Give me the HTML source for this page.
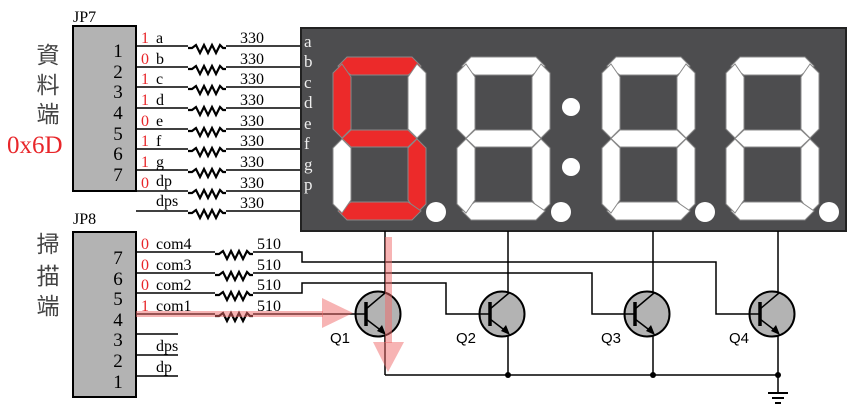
<!DOCTYPE html>
<html><head><meta charset="utf-8"><style>
html,body{margin:0;padding:0;background:#fff;}
svg{display:block;}
.s{font-family:"Liberation Serif",serif;}
.a{font-family:"Liberation Sans",sans-serif;}
.cj{font-family:"Liberation Sans","Noto Sans CJK TC",sans-serif;}
</style></head><body>
<svg width="861" height="414" viewBox="0 0 861 414" xmlns="http://www.w3.org/2000/svg">
<defs>
<polyline id="res" points="0,0 4,0 8,-3 12,5 16,-3 20,5 24,-3 28,5 32,-3 35,0 38,0" fill="none" stroke="#000" stroke-width="2.2" stroke-linejoin="miter"/>
<g id="tr">
  <circle cx="0" cy="0" r="22.5" fill="#b3b3b3" stroke="#000" stroke-width="2"/>
  <line x1="-22" y1="0" x2="-12" y2="0" stroke="#000" stroke-width="1.5"/>
  <line x1="-12" y1="-12" x2="-12" y2="12" stroke="#000" stroke-width="3.5"/>
  <line x1="-12" y1="-5" x2="7" y2="-21" stroke="#000" stroke-width="1.5"/>
  <line x1="-12" y1="5" x2="5" y2="18" stroke="#000" stroke-width="1.5"/>
  <polygon points="8,21 -1,17 4,11" fill="#000"/>
</g>
</defs>

<text x="73" y="22" class="s" font-size="16">JP7</text>
<rect x="73" y="26" width="63" height="165" fill="#b3b3b3" stroke="#000" stroke-width="2"/>
<g class="s" font-size="19" text-anchor="middle">
<text x="118" y="57">1</text><text x="118" y="78">2</text><text x="118" y="98">3</text><text x="118" y="119">4</text><text x="118" y="140">5</text><text x="118" y="160">6</text><text x="118" y="181">7</text>
</g>
<g class="cj" font-size="23" fill="#444" text-anchor="middle">
<text x="48" y="63">資</text><text x="48" y="93">料</text><text x="48" y="122">端</text>
</g>
<text x="7" y="153" class="s" font-size="25" fill="#e8262a">0x6D</text>

<g stroke="#000" stroke-width="1.5">
<line x1="136" y1="46" x2="301" y2="46"/><line x1="136" y1="67" x2="301" y2="67"/><line x1="136" y1="87" x2="301" y2="87"/><line x1="136" y1="108" x2="301" y2="108"/><line x1="136" y1="129" x2="301" y2="129"/><line x1="136" y1="149" x2="301" y2="149"/><line x1="136" y1="170" x2="301" y2="170"/><line x1="136" y1="191" x2="301" y2="191"/><line x1="136" y1="211" x2="301" y2="211"/>
</g>
<g fill="#fff">
<rect x="188" y="40" width="38" height="14"/><rect x="188" y="61" width="38" height="14"/><rect x="188" y="81" width="38" height="14"/><rect x="188" y="102" width="38" height="14"/><rect x="188" y="123" width="38" height="14"/><rect x="188" y="143" width="38" height="14"/><rect x="188" y="164" width="38" height="14"/><rect x="188" y="185" width="38" height="14"/><rect x="188" y="205" width="38" height="14"/>
</g>
<use href="#res" x="188" y="48"/><use href="#res" x="188" y="69"/><use href="#res" x="188" y="89"/><use href="#res" x="188" y="110"/><use href="#res" x="188" y="131"/><use href="#res" x="188" y="151"/><use href="#res" x="188" y="172"/><use href="#res" x="188" y="193"/><use href="#res" x="188" y="213"/>
<g class="s" font-size="16">
<text x="240" y="43">330</text><text x="240" y="64">330</text><text x="240" y="84">330</text><text x="240" y="105">330</text><text x="240" y="126">330</text><text x="240" y="146">330</text><text x="240" y="167">330</text><text x="240" y="188">330</text><text x="240" y="208">330</text>
</g>
<g class="s" font-size="16" fill="#e8262a">
<text x="141" y="43">1</text><text x="141" y="64">0</text><text x="141" y="84">1</text><text x="141" y="105">1</text><text x="141" y="126">0</text><text x="141" y="146">1</text><text x="141" y="167">1</text><text x="141" y="188">0</text>
</g>
<g class="s" font-size="16">
<text x="156" y="43">a</text><text x="156" y="64">b</text><text x="156" y="84">c</text><text x="156" y="105">d</text><text x="156" y="126">e</text><text x="156" y="146">f</text><text x="156" y="167">g</text><text x="156" y="186">dp</text><text x="156" y="206">dps</text>
</g>

<rect x="301" y="28" width="545" height="203" fill="#4d4d4f" stroke="#222" stroke-width="2"/>
<g class="s" font-size="17" fill="#eee">
<text x="304" y="47">a</text><text x="304" y="67">b</text><text x="304" y="88">c</text><text x="304" y="108">d</text><text x="304" y="129">e</text><text x="304" y="149">f</text><text x="304" y="170">g</text><text x="304" y="190">p</text>
</g>
<g stroke="#888" stroke-width="1">
<g transform="translate(333,57)">
 <polygon fill="#ec2a2a" points="14,0 79,0 88,9 75,18 18,18 5,9"/>
 <polygon fill="#fff" points="93,16 84,7 75,20 75,72 84,81 93,72"/>
 <polygon fill="#ec2a2a" points="93,91 84,82 75,91 75,143 84,156 93,147"/>
 <polygon fill="#ec2a2a" points="5,154 18,145 75,145 88,154 79,163 14,163"/>
 <polygon fill="#fff" points="0,91 9,82 18,91 18,143 9,156 0,147"/>
 <polygon fill="#ec2a2a" points="0,16 9,7 18,20 18,72 9,81 0,72"/>
 <polygon fill="#ec2a2a" points="9,81.5 18,73 75,73 84,81.5 75,90 18,90"/>
</g>
<g fill="#fff">
<g transform="translate(457,57)">
 <polygon points="14,0 79,0 88,9 75,18 18,18 5,9"/><polygon points="93,16 84,7 75,20 75,72 84,81 93,72"/><polygon points="93,91 84,82 75,91 75,143 84,156 93,147"/><polygon points="5,154 18,145 75,145 88,154 79,163 14,163"/><polygon points="0,91 9,82 18,91 18,143 9,156 0,147"/><polygon points="0,16 9,7 18,20 18,72 9,81 0,72"/><polygon points="9,81.5 18,73 75,73 84,81.5 75,90 18,90"/>
</g>
<g transform="translate(602,57)">
 <polygon points="14,0 79,0 88,9 75,18 18,18 5,9"/><polygon points="93,16 84,7 75,20 75,72 84,81 93,72"/><polygon points="93,91 84,82 75,91 75,143 84,156 93,147"/><polygon points="5,154 18,145 75,145 88,154 79,163 14,163"/><polygon points="0,91 9,82 18,91 18,143 9,156 0,147"/><polygon points="0,16 9,7 18,20 18,72 9,81 0,72"/><polygon points="9,81.5 18,73 75,73 84,81.5 75,90 18,90"/>
</g>
<g transform="translate(726,57)">
 <polygon points="14,0 79,0 88,9 75,18 18,18 5,9"/><polygon points="93,16 84,7 75,20 75,72 84,81 93,72"/><polygon points="93,91 84,82 75,91 75,143 84,156 93,147"/><polygon points="5,154 18,145 75,145 88,154 79,163 14,163"/><polygon points="0,91 9,82 18,91 18,143 9,156 0,147"/><polygon points="0,16 9,7 18,20 18,72 9,81 0,72"/><polygon points="9,81.5 18,73 75,73 84,81.5 75,90 18,90"/>
</g>
</g>
</g>
<g fill="#fff">
<circle cx="436" cy="212" r="10"/><circle cx="561" cy="212" r="10"/><circle cx="705" cy="212" r="10"/><circle cx="829" cy="212" r="10"/>
<circle cx="571" cy="107" r="9"/><circle cx="571" cy="167" r="9"/>
</g>

<text x="73" y="224" class="s" font-size="16">JP8</text>
<rect x="73" y="232" width="63" height="165" fill="#b3b3b3" stroke="#000" stroke-width="2"/>
<g class="s" font-size="19" text-anchor="middle">
<text x="118" y="264">7</text><text x="118" y="285">6</text><text x="118" y="305">5</text><text x="118" y="326">4</text><text x="118" y="346">3</text><text x="118" y="367">2</text><text x="118" y="388">1</text>
</g>
<g class="cj" font-size="23" fill="#444" text-anchor="middle">
<text x="48" y="252">掃</text><text x="48" y="284">描</text><text x="48" y="314">端</text>
</g>

<g stroke="#000" stroke-width="1.5" fill="none">
<polyline points="136,252 302,252 302,262 716,262 716,314 750,314"/>
<polyline points="136,273 592,273 592,314 626,314"/>
<polyline points="136,293 302,293 302,283 446,283 446,314 481,314"/>
<line x1="136" y1="314" x2="356" y2="314"/>
<line x1="136" y1="334" x2="178" y2="334"/><line x1="136" y1="355" x2="178" y2="355"/><line x1="136" y1="376" x2="178" y2="376"/>
<line x1="385" y1="231" x2="385" y2="375"/>
<line x1="508" y1="231" x2="508" y2="375"/>
<line x1="653" y1="231" x2="653" y2="375"/>
<line x1="778" y1="231" x2="778" y2="393"/>
<line x1="385" y1="375" x2="778" y2="375"/>
</g>
<g fill="#fff">
<rect x="215" y="246" width="38" height="14"/><rect x="215" y="267" width="38" height="14"/><rect x="215" y="287" width="38" height="14"/><rect x="215" y="308" width="38" height="14"/>
</g>
<use href="#res" x="215" y="254"/><use href="#res" x="215" y="275"/><use href="#res" x="215" y="295"/><use href="#res" x="215" y="316"/>
<g class="s" font-size="16">
<text x="257" y="249">510</text><text x="257" y="270">510</text><text x="257" y="290">510</text><text x="257" y="311">510</text>
<text x="156" y="249">com4</text><text x="156" y="270">com3</text><text x="156" y="290">com2</text><text x="156" y="311">com1</text>
<text x="156" y="351">dps</text><text x="156" y="372">dp</text>
</g>
<g class="s" font-size="16" fill="#e8262a">
<text x="141" y="249">0</text><text x="141" y="270">0</text><text x="141" y="290">0</text><text x="141" y="311">1</text>
</g>

<use href="#tr" x="378" y="314"/>
<use href="#tr" x="502" y="314"/>
<use href="#tr" x="647" y="314"/>
<use href="#tr" x="772" y="314"/>
<g class="a" font-size="15">
<text x="330" y="343">Q1</text><text x="456" y="343">Q2</text><text x="601" y="343">Q3</text><text x="729" y="343">Q4</text>
</g>
<g fill="#000">
<circle cx="508" cy="375" r="3"/><circle cx="653" cy="375" r="3"/><circle cx="778" cy="375" r="3"/>
</g>
<g stroke="#000" stroke-width="2">
<line x1="768" y1="393" x2="788" y2="393"/><line x1="772" y1="398" x2="784" y2="398"/><line x1="775" y1="403" x2="781" y2="403"/>
</g>

<g fill="#f06a6a" fill-opacity="0.5">
<rect x="136" y="311" width="187" height="6"/>
<polygon points="322,298 353,313 322,328"/>
<rect x="385" y="237" width="7" height="106"/>
<polygon points="373,342 404,342 388,372"/>
</g>
</svg>
</body></html>
